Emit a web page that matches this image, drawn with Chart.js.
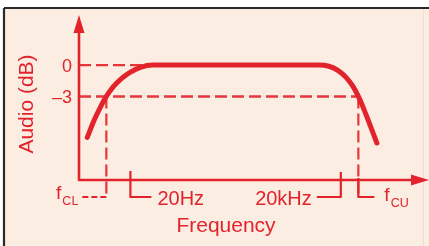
<!DOCTYPE html>
<html><head><meta charset="utf-8">
<script src="https://cdn.jsdelivr.net/npm/chart.js@4/dist/chart.umd.min.js"></script>
<style>html,body{margin:0;padding:0;background:#fff;overflow:hidden}canvas{display:block}</style>
</head><body>
<canvas id="c" width="429" height="246"></canvas>
<script>
// ---- data ----
const freqHz = [4.86, 6.12, 7.45, 9.08, 11.43, 14.87, 20, 27.8, 41.2, 200, 2000, 9700, 13480, 18120, 23570, 29670, 35570, 42630, 51900, 65370];
const audioDb = [-6.92, -5.24, -4.04, -3.0, -2.07, -1.30, -0.67, -0.22, 0, 0, 0, 0, -0.11, -0.50, -1.15, -2.02, -3.0, -4.21, -5.70, -7.46];
const markerFreqs = [9.08, 20, 20000, 35570];
const markerLabels = ['f|CL', '20Hz', '20kHz', 'f|CU'];
const yTickValues = [0, -3];
const yTickLabels = ['0', '\u20133'];
const xTitle = 'Frequency';
const yTitle = 'Audio (dB)';
const X_MIN = 3.7, X_MAX = 350000, Y_MIN = -11, Y_MAX = 4.7;

const RED = '#e2232b';
const DASH_RED = '#e6363b';
const FONT = '"Liberation Sans", Arial, Helvetica, sans-serif';

function fLabel(ctx, text, x, y, align) {
  const parts = text.split('|');
  if (parts.length === 1) {
    ctx.font = '20px ' + FONT;
    ctx.textAlign = align; ctx.textBaseline = 'alphabetic';
    ctx.fillText(text, x, y);
    return;
  }
  ctx.font = '19px ' + FONT;
  const w1 = ctx.measureText(parts[0]).width;
  ctx.font = '12.5px ' + FONT;
  const w2 = ctx.measureText(parts[1]).width;
  let x0 = align === 'right' ? x - (w1 + 1 + w2) : x;
  ctx.textAlign = 'left'; ctx.textBaseline = 'alphabetic';
  ctx.font = '19px ' + FONT;
  ctx.fillText(parts[0], x0, y - 1);
  ctx.font = '12.5px ' + FONT;
  ctx.fillText(parts[1], x0 + w1 + 1, y + 5);
}

const decor = {
  id: 'decor',
  beforeDraw(chart) {
    const ctx = chart.ctx;
    ctx.save();
    ctx.fillStyle = '#ffffff'; ctx.fillRect(0, 0, 429, 246);
    ctx.fillStyle = '#fcede3'; ctx.fillRect(4, 8, 425, 238);
    ctx.strokeStyle = '#f3dccb'; ctx.lineWidth = 1;
    ctx.beginPath(); ctx.moveTo(423.5, 8); ctx.lineTo(423.5, 246); ctx.stroke();
    ctx.strokeStyle = '#2a2a2a'; ctx.lineWidth = 2.2;
    ctx.beginPath(); ctx.moveTo(4, 8); ctx.lineTo(429, 8); ctx.moveTo(4, 8); ctx.lineTo(4, 246); ctx.stroke();
    ctx.restore();
  },
  beforeDatasetsDraw(chart) {
    const ctx = chart.ctx, xs = chart.scales.x, ys = chart.scales.y, a = chart.chartArea;
    ctx.save();
    ctx.strokeStyle = DASH_RED; ctx.lineWidth = 2.4; ctx.setLineDash([12, 5]);
    const y0 = ys.getPixelForValue(yTickValues[0]);
    const y3 = ys.getPixelForValue(yTickValues[1]);
    const firstFlat = freqHz[audioDb.indexOf(0)];
    const xL = xs.getPixelForValue(markerFreqs[0]);
    const xU = xs.getPixelForValue(markerFreqs[3]);
    const by = a.bottom + 17;
    ctx.beginPath(); ctx.moveTo(a.left, y0); ctx.lineTo(xs.getPixelForValue(firstFlat), y0); ctx.stroke();
    ctx.beginPath(); ctx.moveTo(a.left, y3); ctx.lineTo(xU, y3); ctx.stroke();
    ctx.lineWidth = 2.2;
    ctx.beginPath(); ctx.moveTo(xL, y3); ctx.lineTo(xL, by); ctx.stroke();
    ctx.beginPath(); ctx.moveTo(xU, y3); ctx.lineTo(xU, by); ctx.stroke();
    ctx.restore();
  },
  afterDatasetsDraw(chart) {
    const ctx = chart.ctx, xs = chart.scales.x, ys = chart.scales.y, a = chart.chartArea;
    ctx.save();
    ctx.strokeStyle = RED; ctx.fillStyle = RED;
    // axes
    ctx.lineWidth = 2.6; ctx.lineJoin = 'round';
    ctx.beginPath(); ctx.moveTo(a.left, a.top + 10); ctx.lineTo(a.left, a.bottom); ctx.lineTo(a.right - 10, a.bottom); ctx.stroke();
    ctx.beginPath(); ctx.moveTo(a.left, a.top - 1); ctx.lineTo(a.left - 5.5, a.top + 17); ctx.lineTo(a.left + 5.5, a.top + 17); ctx.closePath(); ctx.fill();
    ctx.beginPath(); ctx.moveTo(a.right + 1, a.bottom); ctx.lineTo(a.right - 17, a.bottom - 5.5); ctx.lineTo(a.right - 17, a.bottom + 5.5); ctx.closePath(); ctx.fill();
    // y tick labels
    ctx.font = '18px ' + FONT; ctx.textAlign = 'right'; ctx.textBaseline = 'middle';
    yTickValues.forEach((v, i) => ctx.fillText(yTickLabels[i], a.left - 7, ys.getPixelForValue(v) + 2));
    // x markers and brackets
    const by = a.bottom + 17;
    const px = markerFreqs.map(f => xs.getPixelForValue(f));
    ctx.lineWidth = 2.2;
    ctx.setLineDash([6, 3]);
    ctx.beginPath(); ctx.moveTo(px[0], by); ctx.lineTo(px[0] - 24, by); ctx.stroke();
    ctx.setLineDash([]);
    ctx.beginPath(); ctx.moveTo(px[1], a.bottom - 9); ctx.lineTo(px[1], by); ctx.lineTo(px[1] + 21, by); ctx.stroke();
    ctx.beginPath(); ctx.moveTo(px[2], a.bottom - 8); ctx.lineTo(px[2], by); ctx.lineTo(px[2] - 24, by); ctx.stroke();
    ctx.beginPath(); ctx.moveTo(px[3], a.bottom - 2); ctx.lineTo(px[3], by); ctx.lineTo(px[3] + 16, by); ctx.stroke();
    fLabel(ctx, markerLabels[0], px[0] - 28, by + 3, 'right');
    fLabel(ctx, markerLabels[1], px[1] + 27, by + 8, 'left');
    fLabel(ctx, markerLabels[2], px[2] - 29, by + 8, 'right');
    fLabel(ctx, markerLabels[3], px[3] + 26, by + 5, 'left');
    // titles
    ctx.font = '21px ' + FONT; ctx.textAlign = 'center'; ctx.textBaseline = 'alphabetic';
    ctx.fillText(xTitle, 226, 232);
    ctx.save();
    ctx.translate(33, 104); ctx.rotate(-Math.PI / 2);
    ctx.fillText(yTitle, 0, 0);
    ctx.restore();
    ctx.restore();
  }
};

new Chart(document.getElementById('c'), {
  type: 'line',
  data: {
    datasets: [{
      data: freqHz.map((f, i) => ({ x: f, y: audioDb[i] })),
      borderColor: RED,
      borderWidth: 5,
      borderCapStyle: 'round',
      pointRadius: 0,
      fill: false,
      cubicInterpolationMode: 'monotone'
    }]
  },
  options: {
    responsive: false,
    devicePixelRatio: 1,
    animation: false,
    events: [],
    layout: { padding: { left: 79, right: 1, top: 16, bottom: 66 } },
    plugins: { legend: { display: false }, tooltip: { enabled: false } },
    scales: {
      x: { type: 'logarithmic', min: X_MIN, max: X_MAX, display: false },
      y: { type: 'linear', min: Y_MIN, max: Y_MAX, display: false }
    }
  },
  plugins: [decor]
});
</script>
</body></html>
